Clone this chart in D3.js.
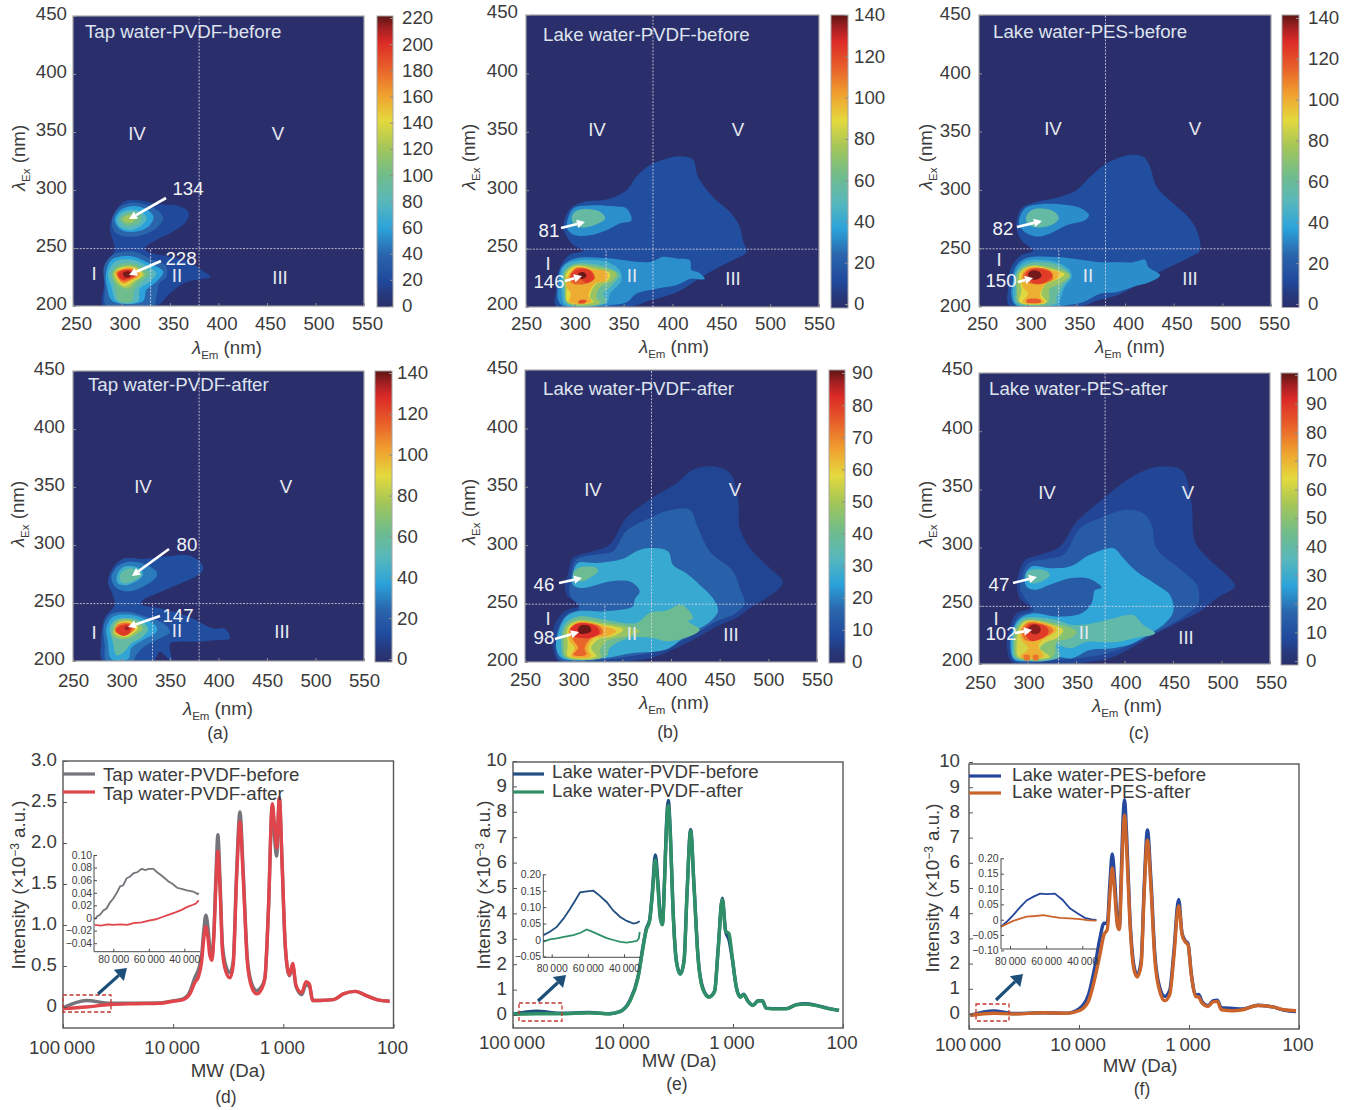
<!DOCTYPE html>
<html><head><meta charset="utf-8">
<script src="https://cdn.jsdelivr.net/npm/d3@7/dist/d3.min.js"></script>
<style>html,body{margin:0;padding:0;background:#fff}svg{display:block}text{font-family:"Liberation Sans",Arial,sans-serif}</style>
</head><body><svg id="c" width="1351" height="1110"></svg>
<script>
// ---------- colour bar (fraction of range -> colour) ----------
const cmapFractions=[0,.04,.09,.18,.27,.36,.45,.55,.64,.73,.82,.91,.96,1];
const cmapColors=["#2a2f6b","#27387a","#20499c","#2a65ac","#2ba3da","#58b7bc","#6fbc8c","#a5c657","#e4d93d","#f0a02f","#e8602a","#dc2a27","#a01f22","#5c1614"];
// ---------- EEM contours: [intensity level, [[Em nm, Ex nm], ...]] ----------
const tapBeforeContours=[
[20,[[288,268],[293,280],[303,290],[319,291],[336,288],[360,286],[369,281],[367,273],[353,264],[336,257],[324,250],[326,247],[346,243],[370,238],[381,232],[392,225],[381,223],[365,220],[350,211],[336,200],[281,200],[282,217],[284,237],[293,248],[291,257]]],
[40,[[290,273],[295,283],[307,288.5],[322,288],[336,283],[343,276],[336,267],[320.5,261],[303,260],[293,264]]],
[60,[[293,274],[298,282],[310,286],[324,284],[333,277],[327,268],[314,264],[300,265.5]]],
[80,[[295,274],[300,280.5],[310,283],[320.5,281],[326,275.5],[319,268.5],[308.5,265.5],[298,268.5]]],
[100,[[298,275],[303,279],[312,281],[319,278.5],[320.5,274],[314,270],[305,269]]],
[120,[[301,275.5],[307,278.5],[312,278.5],[315,275.5],[310,272],[304,272]]],
[40,[[282,234],[291,244],[312,247],[329,241],[346,234],[346,225],[339,219.5],[336,208],[332.5,200],[284.5,200],[283,217]]],
[60,[[284,228],[289.5,239.7],[308.5,243],[325.7,238],[343,229.6],[336,221],[325.7,214],[322,204],[291,204],[285,217]]],
[80,[[286,228],[293,238],[310,240],[325.7,235],[336,228],[329,221],[319,215],[317,204],[295,204],[289.5,217]]],
[100,[[289.5,228],[295,235],[310,237],[324,232.5],[329,227.6],[320.5,221],[313.6,214],[310,204],[298,204],[293,217]]],
[120,[[291,228],[296.5,233],[310,235],[320.5,231],[324,226.7],[315,221],[307,215],[296.5,218]]],
[140,[[293,228],[298,232.5],[310,234],[319,230.5],[321.5,226.7],[312,221],[303,217],[296.5,221]]],
[160,[[293.7,228.7],[299,231.6],[310,233],[318,229.6],[319,226],[310,222],[302,219],[296.5,223]]],
[180,[[295,229],[300,231],[309,232],[316,229],[316,226],[308.5,222.4],[302,220.7],[297,224]]],
[200,[[296.4,228],[301,230.5],[308.5,231],[313.6,228.7],[313.6,226],[307,223.6],[301.6,222.4],[297.5,225]]],
[218,[[301.6,228.7],[307,230],[311,228],[308.5,225],[303,225]]]];
const lakePvdfBeforeContours=[
[15,[[288,268.6],[295,284],[308.7,290],[332.5,292],[353,300],[363,311.5],[377,321.5],[394,327],[407.5,329],[421,326],[426,311.5],[441.6,294],[458.7,281.5],[469,268.6],[472,257],[475.7,247],[465.5,241.5],[445,233],[424.6,223],[407.5,214],[390.5,208.6],[377,205.7],[363,201.4],[342.8,200],[281.4,200],[281.4,217],[284.8,234],[295,245],[308.7,248],[298.4,253],[290,263]]],
[34,[[291.6,270],[298.4,284.4],[315.5,287],[342.8,286],[353,284.4],[358,274],[346,271.5],[332.5,265.8],[315.5,261.5],[300,261.5],[293,265.8]]],
[58,[[296.7,275.8],[300,281.5],[312,283.8],[325.7,281.5],[331,275.8],[322,270.9],[308.7,268],[300,270]]],
[34,[[286.5,234],[300,241.5],[329,242],[377,238.6],[390.5,243],[404,241.5],[417.8,240],[419.5,231.5],[426,230],[433,224],[417.8,224],[404,218.6],[383.7,215.7],[363,211.4],[353,204],[336,201.4],[288,201],[283,205.7],[283,220]]],
[45,[[288,234],[301.8,239.5],[332.5,238.6],[346,231.5],[347.7,223],[336,211.4],[332.5,204],[290,202],[286.8,211.4]]],
[60,[[289,230],[300,237],[325.7,235.7],[342.8,230],[346,227],[336,217],[329,211.4],[332.5,204],[293,202.9],[289,217]]],
[75,[[290,230],[300,235.7],[325.7,233.5],[342.8,228.6],[339,223],[325.7,217],[322,208.6],[325.7,203.4],[292,203.4],[290,217]]],
[90,[[291.6,228.6],[301,234.9],[322,232],[336,228.6],[334,223],[322,220],[315.5,208.6],[319,204.3],[293,204.3],[291.6,217]]],
[100,[[293,227],[302,234],[319,232],[332.5,230],[332.5,223],[320.5,220],[314,210],[317,204.3],[294,204.3],[296,211.4],[291.6,217]]],
[115,[[295,227],[302,233.5],[317,231],[320.5,224.3],[312,220],[298.4,220],[295,223]]],
[125,[[295.7,227],[303.5,232.3],[315.5,231],[319.5,224.3],[312,220.6],[307,223.4],[298.4,224.3]]],
[120,[[305,205.7],[312,205.7],[310.4,203.4],[303.5,203.4]]],
[140,[[303.5,228.6],[308.7,230],[312,227],[308.7,224.3],[304.6,225]]]];
const lakePesBeforeContours=[
[15,[[288.4,271],[293.6,284],[305.6,289],[333,294],[350,299.8],[364,311],[381,322.7],[405,330],[418.8,328.4],[425.6,320],[432.5,302.6],[449.6,288.3],[465,276.8],[473.6,265.4],[477,248],[466.8,242.4],[446,233.8],[429,226.7],[408.5,216.6],[391.3,209.5],[370.7,205],[357,200.9],[281.6,200],[280,216.6],[283.3,233.8],[293.6,243.9],[305.6,247.6],[295.3,255.3],[290,262.5]]],
[34,[[291,271],[297,284],[312.4,287.7],[340,287],[355.3,284],[363,278.3],[358.7,274],[340,269.7],[322.7,262.5],[309,260],[297,264]]],
[58,[[298,275.4],[303.8,282.6],[315.9,284],[327.9,281],[332,275.4],[326,270.5],[312.4,267.7],[302,269.7]]],
[34,[[286.7,232.4],[297,241],[329.6,242.4],[374,238],[391,238],[408.5,238],[420.5,240],[424,233.8],[436,226.7],[425.6,221],[408.5,217],[391.3,212.3],[374,211],[360.4,205],[350,202.3],[288.4,200.9],[283,211],[285,222]]],
[45,[[288.4,231],[298.7,239],[329.6,238],[343.3,231],[345,225],[338,216.6],[333,205],[331,201.7],[288.4,201.7],[285,213.8]]],
[60,[[289,229.5],[300.4,236.7],[329.6,235.8],[344,226.7],[336.4,218],[329.6,208],[329.6,203],[289,203],[287.7,213.8]]],
[75,[[291,229.5],[301.5,235],[327.9,233],[343.3,226.7],[333,219.5],[322.7,215],[321,203.7],[291,203.7],[289,213.8]]],
[90,[[291.8,228],[302,234.4],[326,231.5],[338,227.5],[329.6,223],[319.3,219.5],[314,211],[319.3,203.7],[291.8,203.7],[293.6,213.8]]],
[100,[[293.6,228],[302,233.8],[322.7,231],[333,228.7],[329.6,223.8],[319.3,220],[312.4,209.5],[317.6,203.7],[294.6,203.7],[300.4,211],[295.3,216.6]]],
[115,[[295.3,226.7],[302,232.4],[322.7,231],[326,223.8],[315.9,219.5],[303.8,219.5],[297,222.4]]],
[125,[[298,227.5],[303.8,232],[319.3,231],[325.5,226.7],[315.9,220],[305.6,220],[300.4,223.8]]],
[118,[[299.4,206],[312.4,206],[314,203.7],[298.7,203.7]]],
[140,[[300.4,228],[305.6,231],[312.4,229.5],[314,225.8],[307.3,223],[302,224.7]]]];
const tapAfterContours=[
[15,[[286,268],[291,280],[303,288.5],[322,288],[346,290],[370,291],[382.5,284],[384,278.5],[377,273],[357,265.5],[336,258],[322,252.6],[320.5,249],[339.5,245.4],[370,238],[394.5,228],[406.5,228],[411.7,219.5],[398,218],[381,216.7],[360,216.7],[350,215],[351.5,200],[339.5,208],[332.5,200],[281,200],[279,216.7],[282.7,236.8],[293,248],[291,257]]],
[30,[[289.5,271],[295,281],[307,285.6],[322,284],[336,277],[336,272.6],[322,264],[307,260],[295,263]]],
[45,[[295,272.7],[300,280],[310,282],[320.5,278.5],[322,274],[313.6,268],[305,265.4],[296.5,266.8]]],
[58,[[298,272.7],[301.6,277.6],[310,280],[318,277],[320.5,274],[312,269],[305,267],[300,268.4]]],
[28,[[281.6,229.6],[288,239.7],[305,242.5],[325.7,238],[343,232.5],[350,225],[339.5,219.5],[325.7,213.8],[315,205],[312,200],[284.4,200],[282.7,213.8]]],
[40,[[284.4,228],[291,238],[307,240],[322,236.8],[336,229.6],[336,225],[322,218],[310,211],[307,201.7],[289.5,201.7],[286,216.7]]],
[58,[[288,228],[293,235],[307,237],[320.5,234],[327.4,228],[322,221],[310,215],[303,208],[295,205],[291,216.7]]],
[75,[[291,226.7],[295,234],[307,236],[317,232.5],[322,228],[317,224],[307,219.5],[296.5,219.5],[291,222.4]]],
[92,[[293,226.7],[296.5,232.5],[307,234.5],[315,231.6],[317,228],[312,224],[305,221],[297.5,221.8],[293,224]]],
[112,[[293,226.7],[296.5,231.6],[307,233],[312,230.5],[313.6,227.6],[309,224],[303,221.8],[296.5,223]]],
[126,[[294,226.7],[299,230.5],[307,231.6],[310,229.6],[310,226.7],[307,223],[301.6,221.8],[296.5,224]]],
[136,[[303,229],[306,230],[308.5,228],[305,226.4]]]];
const lakePvdfAfterContours=[
[7,[[294,274.8],[299.3,289],[320,294.8],[337,300.5],[354,323.3],[378,339],[405.5,353],[422.6,364.7],[443,367.5],[460.3,361.8],[469,340.4],[470.6,314.7],[481,297.6],[501.4,280.5],[515,269],[511.7,263.4],[498,254.8],[480.8,246],[467,237.7],[446.6,230.5],[426,220.5],[405.5,212],[385,204.9],[357.5,200.6],[285.6,200],[278.8,212],[280.5,232],[290.8,243.4],[306,248.5],[294,256],[290.8,266]]],
[15,[[297.6,274.8],[302.7,287.6],[323.3,292],[340.4,294.8],[354,312],[378,323],[395,329],[419,330.4],[427.8,314.7],[439.7,294.8],[463.7,277.6],[470.6,263.4],[475.7,250.5],[467,242],[446.6,234.8],[426,224.8],[405.5,216],[385,209],[357.5,204.9],[330,202],[285.6,202],[282,212],[284,229],[292.5,240.5],[306,246.2],[296,257.7]]],
[27,[[299.3,276],[304.5,284.8],[323.3,284.8],[350.7,288.5],[364.4,294.8],[378,297.6],[397,294.8],[402,283.3],[415.8,276],[429.5,266],[443,254.8],[448.3,243.4],[436.3,232],[419,224.8],[398.6,212],[385,209],[361,207.7],[331.9,203.4],[289,202.9],[282,212],[285.6,229],[292.5,239],[304.5,243.4],[331.9,243.4],[361,247.7],[362.7,253.4],[367.8,260.5],[359,268.5],[337,269],[323.3,266],[308,263.4],[299.3,266]]],
[40,[[299.3,274.8],[304.5,280.5],[323.3,280.5],[325,277.6],[316.5,272],[308,269],[301.7,270]]],
[40,[[290.8,232],[304.5,239],[333.6,236],[364.4,233.4],[378,242],[395,244],[410.6,249],[422.6,237.7],[417.5,234.8],[429.5,227.7],[415.8,221],[395,217.7],[381.5,220.5],[357.5,220.5],[337,212],[333.6,204.9],[290.8,204],[287.3,214.8]]],
[48,[[292.5,230.5],[304.5,236],[332,233.4],[354,230.5],[368,226.3],[354,222],[333.6,217.7],[326.7,209],[328.4,204],[292.5,204],[289.8,214.8]]],
[57,[[294,229],[304.5,234.8],[330,232],[350.7,227.7],[340.4,222],[326.7,220],[318,212],[323.3,204.9],[294,204.9],[294,214.8]]],
[65,[[295.2,227.7],[304.5,234.2],[328.4,231.4],[343.8,226.3],[333.6,222],[319.9,220],[314.7,210.6],[318,204.9],[297.6,204.9],[301,212],[296,217.7]]],
[74,[[296,227.7],[304.5,233.4],[326.7,230.5],[330,224.8],[318,220.5],[311.3,212],[313,206.3],[299.3,206.3],[304.5,212],[299.3,219]]],
[82,[[296.6,227.7],[304.5,232.9],[323.3,230.5],[326.7,224.8],[316.5,220.5],[307.9,220.5],[299.3,222]]],
[90,[[304.5,228.5],[307.9,231.4],[316.5,230.5],[318,226.3],[309.6,224],[305.5,224.8]]]];
const lakePesAfterContours=[
[8,[[290.5,276.5],[297.4,289.4],[313,293.8],[333.5,301],[350.7,322.4],[374.7,339.6],[405.7,359.7],[426.3,368],[446.9,369.7],[460.6,365.4],[469.2,336.8],[472.7,305],[488,289.4],[508.7,273.7],[513.9,266.5],[495,256.5],[477.8,245],[457,236.4],[433,226.4],[409,214.9],[388.5,206.3],[364.4,202],[285.4,200.6],[279,213.5],[282,232],[288.8,243.6],[302.6,247.9],[292,256.5],[288.8,268]]],
[15,[[294,275],[300.9,286.6],[319.7,290.3],[337,293.8],[354,316.7],[374.7,325.3],[402,332.5],[419.4,329.6],[428,319.6],[433,299.5],[460.6,279.4],[474.4,268],[476,252],[460.6,240.7],[436.6,229],[412.5,219],[388.5,210.6],[364.4,206.3],[330,203.4],[287,202.6],[282,213.5],[283.7,229],[290.5,240.7],[306,246.4],[297.4,256.5],[292.3,265]]],
[28,[[297.4,276.5],[304.3,283.7],[323,282.3],[343.8,283.7],[364.4,293.8],[388.5,299.5],[398.8,290.9],[412.5,279.4],[433,268],[446.9,259.3],[450.3,245],[440,233.5],[426.3,226.4],[409,217.8],[388.5,213.5],[364.4,212],[345.5,204.9],[330,206.3],[287,203.4],[282.6,213.5],[285.4,230.7],[292.3,239.3],[306,243.6],[331.8,240.7],[355.8,243.6],[366,252],[369.6,263.6],[376.4,265.6],[364.4,273],[343.8,273.7],[323,268],[307.7,263.6],[299,266.5]]],
[40,[[299,278],[304.3,280.9],[319.7,280],[323,276.5],[314.6,270.8],[304.3,269.4],[299.6,272]]],
[40,[[287,230.7],[295.7,239.3],[330,237.8],[347,233.5],[374.7,236.4],[388.5,239.3],[409,242],[419.4,233.5],[431.4,226.4],[409,222],[392,219],[374.7,219],[361,219],[343.8,213.5],[330,216.3],[333.5,206.3],[287,204.9],[284.7,216.3]]],
[50,[[288.8,230.7],[297.4,237.8],[328.3,235],[350.7,227.8],[343.8,222],[330,219],[326.6,206.3],[288.8,205.4],[286,216.3]]],
[62,[[290.5,229],[298.4,237],[326.6,233.5],[337,229],[330,222],[319.7,219],[312.9,213.5],[323,206.3],[290.5,206.3],[288.8,216.3]]],
[71,[[292.3,229],[300.9,236.4],[325,233],[330,229],[319.7,222.6],[311,216.3],[316.3,206.3],[292.3,206.3],[300.9,213.5],[294,220.6]]],
[80,[[294,229],[300.9,235.6],[323,232],[326.6,228.4],[316.3,222.6],[306,219.8],[297.4,220.6]]],
[89,[[297.4,229],[301.9,234.4],[319.7,232],[321.5,226.4],[311,220.6],[304.3,219.8],[299,223.5]]],
[98,[[300.9,230.7],[306,234],[312.9,232],[312.9,227.2],[306,225.5]]],
[80,[[296.4,207.7],[302,207.7],[302,203.5],[296.4,203.5]]],
[80,[[306,207.7],[311,207.7],[311,203.5],[306,203.5]]]];
// ---------- EEM axis ticks ----------
const emTicks=[250,300,350,400,450,500,550];
const exTicks=[200,250,300,350,400,450];
const cbTicksTap=[0,20,40,60,80,100,120,140,160,180,200,220];
const cbTicks140=[0,20,40,60,80,100,120,140];
const cbTicks90=[0,10,20,30,40,50,60,70,80,90];
const cbTicks100=[0,10,20,30,40,50,60,70,80,90,100];
// ---------- MW curves ----------
const logMwD=[5,4.788,4.576,4.364,4.121,4,3.909,3.848,3.803,3.77,3.742,3.721,3.703,3.685,3.667,3.648,3.63,3.612,3.594,3.576,3.552,3.521,3.485,3.455,3.424,3.394,3.364,3.327,3.288,3.242,3.197,3.167,3.136,3.1,3.076,3.061,3.036,3.012,2.982,2.945,2.915,2.885,2.833,2.794,2.764,2.733,2.667,2.545,2.455,2.348,2.242,2.152,2.036];
const tapBefore=[-.01,.08,.045,.045,.05,.075,.1,.19,.36,.46,.63,.95,1.12,.98,.72,.62,.92,1.6,2.1,1.6,.75,.5,.42,.56,1.65,2.38,1.65,.6,.29,.2,.25,.36,1.16,2.45,2,1.84,2.55,1.78,.72,.38,.5,.25,.15,.27,.25,.08,.08,.09,.16,.19,.135,.09,.07];
const tapAfter=[-.02,0,.03,.04,.045,.07,.09,.16,.3,.37,.55,.85,.98,.85,.63,.57,.88,1.49,1.9,1.49,.67,.43,.355,.51,1.57,2.26,1.57,.55,.245,.16,.22,.35,1.16,2.48,2.14,1.94,2.55,1.78,.75,.39,.53,.265,.175,.31,.28,.08,.08,.09,.16,.19,.135,.09,.07];
const logMwE=[5,4.788,4.576,4.303,4.121,4.03,3.939,3.864,3.818,3.788,3.758,3.733,3.706,3.682,3.661,3.642,3.621,3.606,3.588,3.57,3.545,3.515,3.479,3.445,3.418,3.385,3.355,3.318,3.273,3.218,3.167,3.136,3.097,3.067,3.036,3.006,2.97,2.933,2.903,2.864,2.818,2.773,2.733,2.697,2.591,2.515,2.424,2.348,2.242,2.121,2.036];
const lakePvdfBefore=[.03,.15,.07,.1,.05,.13,.56,1.5,2.7,3.4,3.75,4.85,6.3,5.2,3.9,3.6,5.5,7.4,8.45,7.2,4.15,2.15,1.62,2.15,4.8,7.3,5.15,2.3,1.05,.72,.95,2.55,4.6,3.3,2.95,2.2,1.1,.72,.82,.55,.38,.56,.56,.27,.25,.25,.41,.44,.38,.25,.18];
const lakePvdfAfter=[.03,.05,.05,.09,.05,.13,.53,1.45,2.65,3.35,3.7,4.75,6.1,5,3.8,3.55,5.4,7.25,8.25,7.1,4.1,2.1,1.6,2.1,4.75,7.25,5.1,2.25,1,.7,.92,2.5,4.55,3.3,3.2,2.25,1.1,.7,.8,.53,.37,.55,.55,.26,.24,.24,.4,.43,.37,.24,.18];
const logMwF=[4.988,4.776,4.595,4.323,4.112,4,3.915,3.855,3.81,3.773,3.743,3.719,3.698,3.674,3.653,3.634,3.616,3.601,3.586,3.568,3.538,3.502,3.471,3.435,3.408,3.378,3.347,3.311,3.266,3.221,3.175,3.139,3.094,3.063,3.033,3.009,2.979,2.94,2.912,2.882,2.828,2.782,2.743,2.707,2.601,2.511,2.375,2.239,2.133,2.027];
const lakePesBefore=[-.05,.12,.02,.05,.03,.2,.75,1.9,3,3.6,3.6,5.2,6.35,5.2,3.75,3.4,5.5,7.6,8.5,7.2,3.9,1.95,1.55,2.1,5,7.3,5.4,2.4,1.05,.7,.95,2.4,4.55,3.2,2.9,2.8,1.6,.75,.78,.5,.33,.52,.55,.25,.22,.2,.35,.28,.15,.1];
const lakePesAfter=[-.05,.03,0,.05,.03,.13,.5,1.43,2.35,3.15,3.35,4.75,5.8,4.75,3.55,3.35,5.1,7,7.9,6.7,3.7,1.8,1.47,1.95,4.75,6.9,5.1,2.2,.9,.53,.77,2.2,4.3,3.15,2.85,2.75,1.55,.7,.67,.44,.3,.48,.5,.17,.13,.17,.34,.28,.17,.13];
const mwTicks=[100000,10000,1000,100];
const yTicksD=[0,.5,1,1.5,2,2.5,3];
const yTicks10=[0,1,2,3,4,5,6,7,8,9,10];
// ---------- insets: [MW, value] ----------
const insetTapBefore=[[90400,-.002],[89000,.003],[87500,.005],[85600,.012],[83800,.015],[82000,.024],[80000,.031],[78000,.04],[76200,.05],[74400,.052],[72500,.063],[70500,.066],[68700,.071],[66300,.073],[64000,.078],[62000,.076],[60000,.078],[57400,.078],[55500,.073],[53600,.069],[51000,.063],[48900,.058],[46500,.054],[44100,.048],[41000,.046],[38500,.044],[35000,.042],[32500,.038],[31900,.04]];
const insetTapAfter=[[90400,-.011],[87000,-.012],[83000,-.01],[80000,-.011],[76000,-.01],[72000,-.011],[68700,-.008],[64000,-.007],[60000,-.004],[56000,-.002],[52000,.002],[49000,.005],[45000,.009],[41500,.013],[38000,.018],[35000,.021],[33500,.023],[31900,.028]];
const insetPvdfBefore=[[84600,.015],[81000,.025],[77200,.04],[73500,.065],[69800,.095],[67000,.12],[64300,.145],[60500,.148],[56900,.15],[53500,.135],[49500,.115],[46000,.09],[42100,.07],[38500,.058],[34700,.05],[33000,.052],[31300,.057]];
const insetPvdfAfter=[[84600,-.005],[81000,.002],[77200,.005],[72500,.01],[68000,.015],[64000,.022],[60600,.032],[57000,.024],[53300,.015],[49500,.006],[45900,0],[42000,-.006],[38500,-.008],[35000,-.005],[32900,-.003],[31800,.005],[31300,.025]];
const insetPesBefore=[[85000,-.023],[81500,-.005],[78200,.015],[74500,.04],[70800,.063],[67000,.075],[63400,.085],[59500,.083],[55200,.085],[51000,.065],[46900,.037],[42500,.02],[38600,.006],[35000,.001],[32200,-.001]];
const insetPesAfter=[[85000,-.023],[78200,-.004],[74000,.004],[70800,.01],[66000,.012],[61600,.015],[57000,.01],[52400,.006],[47000,.004],[41400,.002],[36000,-.002],[32200,-.003]];
const insetXTicks=[80000,60000,40000];
const insetYTicksD=[-.04,-.02,0,.02,.04,.06,.08,.1];
const insetYTicksE=[-.05,0,.05,.1,.15,.2];
const insetYTicksF=[-.1,-.05,0,.05,.1,.15,.2];

// ---------- drawing ----------
const TEXT="#3b3b3b",FS=18.7,svg=d3.select("#c");
const defs=svg.append("defs");
const grad=defs.append("linearGradient").attr("id","cb").attr("x1",0).attr("y1",1).attr("x2",0).attr("y2",0);
cmapFractions.forEach((f,i)=>grad.append("stop").attr("offset",f).attr("stop-color",cmapColors[i]));
const cmap=d3.scaleLinear().domain(cmapFractions).range(cmapColors).interpolate(d3.interpolateRgb).clamp(true);

function label(x,y,s,o={}){return svg.append("text").attr("x",x).attr("y",y).attr("dy",".36em").attr("text-anchor",o.anchor||"middle").attr("fill",o.fill||TEXT).attr("font-size",o.size||FS).text(s);}
function arrow(x1,y1,x2,y2,color,w,hl,hw){
  const a=Math.atan2(y2-y1,x2-x1),bx=x2-hl*Math.cos(a),by=y2-hl*Math.sin(a),nx=-Math.sin(a),ny=Math.cos(a);
  svg.append("line").attr("x1",x1).attr("y1",y1).attr("x2",bx).attr("y2",by).attr("stroke",color).attr("stroke-width",w);
  svg.append("polygon").attr("points",[[x2,y2],[bx+nx*hw,by+ny*hw],[bx-nx*hw,by-ny*hw]].join(" ")).attr("fill",color);
}
function lambdaTitle(cx,cy,sub,rot){
  const t=svg.append("text").attr("text-anchor","middle").attr("fill",TEXT).attr("font-size",FS)
    .attr("transform",`translate(${cx},${cy})`+(rot?" rotate(-90)":"")).attr("dy",".36em");
  t.append("tspan").attr("font-style","italic").text("λ");
  t.append("tspan").attr("font-size",11.5).attr("dy",5).text(sub);
  t.append("tspan").attr("dy",-5).text(" (nm)");
}
const eemPanels=[
{c:tapBeforeContours,max:222,cbT:cbTicksTap,cbR:[306,18],cbM:220,x:[73,364],y:[16,306],cb:[377,393],cbL:402,ySh:-2,title:["Tap water-PVDF-before",85,31],
 rom:{I:[94,273],II:[177,275],III:[280,277],IV:[137,133],V:[278,133]},v:330,peaks:[["134",188,188,166,198,129,219],["228",181,258,161,261,129,275]],xLab:[323,3],yLab:67,xT:[227,347],yT:[18,158]},
{c:lakePvdfBeforeContours,max:141,cbT:cbTicks140,cbR:[304,15],cbM:140,x:[526,819],y:[15,307],cb:[831,848],cbL:854,ySh:-3,title:["Lake water-PVDF-before",543,34],
 rom:{I:[548,263],II:[632,275],III:[733,278],IV:[597,129],V:[738,129]},v:332,peaks:[["81",549,230,561,228,585,222],["146",549,281,565,281,582,276]],xLab:[323,0],yLab:518,xT:[674,346],yT:[468,157]},
{c:lakePesBeforeContours,max:142,cbT:cbTicks140,cbR:[304,18],cbM:140,x:[979,1271],y:[15,306.5],cb:[1282,1299],cbL:1308,ySh:-1,title:["Lake water-PES-before",993,31],
 rom:{I:[999,259],II:[1088,275],III:[1190,278],IV:[1053,128],V:[1195,128]},v:332,peaks:[["82",1003,228,1017,227,1042,221],["150",1001,280,1018,282,1033,278]],xLab:[323,3],yLab:971,xT:[1130,346],yT:[925,157]},
{c:tapAfterContours,max:142,cbT:cbTicks140,cbR:[659,373],cbM:140,x:[73,364],y:[371,661],cb:[375,392],cbL:397,ySh:-2,title:["Tap water-PVDF-after",88,384],
 rom:{I:[94,632],II:[177,630],III:[282,631],IV:[143,486],V:[286,486]},v:332,peaks:[["80",187,544,169,549,132,576],["147",178,615,160,616,128,627]],xLab:[680,0],yLab:65,xT:[218,708],yT:[17,514],cap:["(a)",218,733]},
{c:lakePvdfAfterContours,max:91,cbT:cbTicks90,cbR:[662,373],cbM:90,x:[525,817],y:[370,662],cb:[829,845],cbL:852,ySh:-2,title:["Lake water-PVDF-after",543,388],
 rom:{I:[548,618],II:[632,633],III:[731,634],IV:[593,489],V:[735,489]},v:332,peaks:[["46",544,584,559,583,582,578],["98",544,637,555,639,579,632]],xLab:[679,0],yLab:518,xT:[674,702],yT:[468,512],cap:["(b)",668,732]},
{c:lakePesAfterContours,max:101,cbT:cbTicks100,cbR:[661,375],cbM:100,x:[979,1270],y:[373,664],cb:[1281,1298],cbL:1306,ySh:-4,title:["Lake water-PES-after",989,388],
 rom:{I:[996,618],II:[1084,632],III:[1186,637],IV:[1047,492],V:[1188,492]},v:332,peaks:[["47",999,584,1013,583,1037,577],["102",1001,633,1015,633,1032,630]],xLab:[682,1],yLab:973,xT:[1127,705],yT:[925,514],cap:["(c)",1139,733]}
];
eemPanels.forEach((p,i)=>{
  const x=d3.scaleLinear().domain([250,550]).range(p.x), y=d3.scaleLinear().domain([200,450]).range([p.y[1],p.y[0]]);
  const w=p.x[1]-p.x[0],h=p.y[1]-p.y[0];
  defs.append("clipPath").attr("id","clip"+i).append("rect").attr("x",p.x[0]).attr("y",p.y[0]).attr("width",w).attr("height",h);
  svg.append("rect").attr("x",p.x[0]).attr("y",p.y[0]).attr("width",w).attr("height",h).attr("fill",cmap(0));
  const line=d3.line().x(d=>x(d[0])).y(d=>y(d[1])).curve(d3.curveCatmullRomClosed.alpha(.5));
  svg.append("g").attr("clip-path",`url(#clip${i})`).selectAll("path").data(p.c).join("path")
    .attr("d",d=>line(d[1])).attr("fill",d=>cmap(d[0]/p.max));
  // dotted guide lines
  const guide=[[x(380),y(200),x(380),y(450)],[x(250),y(249.5),x(550),y(249.5)],[x(p.v),y(200),x(p.v),y(249.5)]];
  guide.forEach(g=>svg.append("line").attr("x1",g[0]).attr("y1",g[1]).attr("x2",g[2]).attr("y2",g[3]).attr("stroke","#e9dfe9").attr("stroke-width",.9).attr("stroke-dasharray","2 1.4").attr("opacity",.85));
  svg.append("rect").attr("x",p.x[0]).attr("y",p.y[0]).attr("width",w).attr("height",h).attr("fill","none").attr("stroke","#a6a6a6").attr("stroke-width",1.2);
  // axes
  const ax=svg.append("g").attr("transform",`translate(0,${p.y[1]})`).call(d3.axisBottom(x).tickValues(emTicks).tickSizeOuter(0).tickSizeInner(-3).tickPadding(p.xLab[0]-p.y[1]-6.5));
  ax.selectAll("text").attr("dx",p.xLab[1]);
  const ay=svg.append("g").attr("transform",`translate(${p.x[0]},0)`).call(d3.axisLeft(y).tickValues(exTicks).tickSizeOuter(0).tickSizeInner(-3).tickPadding(p.x[0]-p.yLab));
  ay.selectAll("text").attr("y",p.ySh);
  [ax,ay].forEach(a=>{a.select(".domain").remove();a.selectAll("line").attr("stroke","#8e8e8e");a.selectAll("text").attr("fill",TEXT).attr("font-size",FS).attr("font-family","Liberation Sans");});
  lambdaTitle(p.xT[0],p.xT[1],"Em",false);
  lambdaTitle(p.yT[0],p.yT[1],"Ex",true);
  // colour bar
  const cs=d3.scaleLinear().domain([0,p.cbM]).range(p.cbR);
  svg.append("rect").attr("x",p.cb[0]).attr("y",p.y[0]).attr("width",p.cb[1]-p.cb[0]).attr("height",h+1).attr("fill","url(#cb)").attr("stroke","#a6a6a6").attr("stroke-width",1);
  const ac=svg.append("g").attr("transform",`translate(${p.cb[1]},0)`).call(d3.axisRight(cs).tickValues(p.cbT).tickSizeOuter(0).tickSizeInner(-3).tickPadding(p.cbL-p.cb[1]));
  ac.select(".domain").remove();ac.selectAll("line").attr("stroke","#8e8e8e");ac.selectAll("text").attr("fill",TEXT).attr("font-size",FS).attr("font-family","Liberation Sans");
  // annotations
  label(p.title[1],p.title[2],p.title[0],{anchor:"start",fill:"#dfe3ee"});
  Object.entries(p.rom).forEach(([k,v])=>label(v[0],v[1],k,{fill:"#e6e8f0"}));
  p.peaks.forEach(k=>{label(k[1],k[2],k[0],{fill:"#f2f3f7"});arrow(k[3],k[4],k[5],k[6],"#ffffff",2.6,8,4.2);});
  if(p.cap)label(p.cap[1],p.cap[2],p.cap[0],{size:17.5});
});

const mwPanels=[
{xv:logMwD,a:tapBefore,b:tapAfter,names:["Tap water-PVDF-before","Tap water-PVDF-after"],colors:["#74747a","#df454b"],x:[63,393.5],y:[761,1028],yMap:[1007,761],yT:yTicksD,yFmt:d=>d===0?"0":d3.format(".1f")(d),
 yLabR:57,xLabY:1047,xTitle:[228,1070],yTitle:[18,885],cap:["(d)",226,1097],leg:{x:[63,95],y:[774,792],tx:103,ty:[774,793]},box:[63,995,111,1012],arr:[98,994,127,968],
 ins:{a:insetTapBefore,b:insetTapAfter,x:[94,200],y:[855,951.7],xAt:[113.3,184.3],yAt:[918,855],yDom:[0,.1],yT:insetYTicksD,xLabY:959.5,yLabR:92}},
{xv:logMwE,a:lakePvdfBefore,b:lakePvdfAfter,names:["Lake water-PVDF-before","Lake water-PVDF-after"],colors:["#1f4e80","#2f9068"],x:[513,843],y:[762,1028],yMap:[1015,761],yT:yTicks10,yFmt:d=>String(d),
 yLabR:507,xLabY:1042,xTitle:[679,1060],yTitle:[483,885],cap:["(e)",677,1084],leg:{x:[513,544],y:[774,792],tx:552,ty:[771,790]},box:[519,1003,562,1021],arr:[538,1001,566,975],
 ins:{a:insetPvdfBefore,b:insetPvdfAfter,x:[543.3,641],y:[874.3,957.3],xAt:[551.7,624],yAt:[940,874.3],yDom:[0,.2],yT:insetYTicksE,xLabY:968,yLabR:541}},
{xv:logMwF,a:lakePesBefore,b:lakePesAfter,names:["Lake water-PES-before","Lake water-PES-after"],colors:["#25479c","#cb642b"],x:[969,1299],y:[764,1029],yMap:[1014,762],yT:yTicks10,yFmt:d=>String(d),
 yLabR:960,xLabY:1044,xTitle:[1140,1065],yTitle:[932,888],cap:["(f)",1142,1089],leg:{x:[969,1001],y:[776,793],tx:1012,ty:[774,791]},box:[976,1004,1009,1021],arr:[996,1000,1023,974],
 ins:{a:insetPesBefore,b:insetPesAfter,x:[1001,1098],y:[858.3,949],xAt:[1010,1082.3],yAt:[919.7,858.3],yDom:[0,.2],yT:insetYTicksF,xLabY:961,yLabR:998.5}}
];
const spaced=d=>d3.format(",")(d).replace(/,/g,"\u2009");
mwPanels.forEach(p=>{
  const x=d3.scaleLog().domain([100000,100]).range(p.x);
  const y=d3.scaleLinear().domain([0,p.yT===yTicksD?3:10]).range(p.yMap);
  const pts=(arr)=>arr.map((v,i)=>[Math.pow(10,p.xv[i]),v]);
  svg.append("rect").attr("x",p.x[0]).attr("y",p.y[0]).attr("width",p.x[1]-p.x[0]).attr("height",p.y[1]-p.y[0]).attr("fill","none").attr("stroke","#565656").attr("stroke-width",1.4);
  const line=d3.line().x(d=>x(d[0])).y(d=>y(d[1])).curve(d3.curveMonotoneX);
  [p.a,p.b].forEach((s,i)=>svg.append("path").attr("d",line(pts(s))).attr("fill","none").attr("stroke",p.colors[i]).attr("stroke-width",3.4).attr("stroke-linejoin","round"));
  const ax=svg.append("g").attr("transform",`translate(0,${p.y[1]})`).call(d3.axisBottom(x).tickValues(mwTicks).tickFormat(spaced).tickSizeOuter(0).tickSizeInner(-4).tickPadding(p.xLabY-p.y[1]-6.5));
  const ay=svg.append("g").attr("transform",`translate(${p.x[0]},0)`).call(d3.axisLeft(y).tickValues(p.yT).tickFormat(p.yFmt).tickSizeOuter(0).tickSizeInner(-4).tickPadding(p.x[0]-p.yLabR));
  ax.selectAll("text").attr("dx",-1.5);
  ay.selectAll("text").attr("y",-1);
  [ax,ay].forEach(a=>{a.select(".domain").remove();a.selectAll("line").attr("stroke","#565656");a.selectAll("text").attr("fill",TEXT).attr("font-size",FS).attr("font-family","Liberation Sans");});
  label(p.xTitle[0],p.xTitle[1],"MW (Da)");
  const t=svg.append("text").attr("text-anchor","middle").attr("fill",TEXT).attr("font-size",FS).attr("dy",".36em").attr("transform",`translate(${p.yTitle[0]},${p.yTitle[1]}) rotate(-90)`);
  t.append("tspan").text("Intensity (×10");
  t.append("tspan").attr("font-size",12).attr("dy",-6).text("−3");
  t.append("tspan").attr("dy",6).text(" a.u.)");
  label(p.cap[1],p.cap[2],p.cap[0],{size:17.5});
  p.names.forEach((n,i)=>{
    svg.append("line").attr("x1",p.leg.x[0]).attr("x2",p.leg.x[1]).attr("y1",p.leg.y[i]).attr("y2",p.leg.y[i]).attr("stroke",p.colors[i]).attr("stroke-width",3.2);
    label(p.leg.tx,p.leg.ty[i],n,{anchor:"start"});
  });
  svg.append("rect").attr("x",p.box[0]).attr("y",p.box[1]).attr("width",p.box[2]-p.box[0]).attr("height",p.box[3]-p.box[1]).attr("fill","none").attr("stroke","#c4372f").attr("stroke-width",1.3).attr("stroke-dasharray","4 2.5");
  arrow(p.arr[0],p.arr[1],p.arr[2],p.arr[3],"#1d4f78",3.2,11,7.5);
  // inset
  const n=p.ins;
  const ix=d3.scaleLinear().domain([80000,40000]).range(n.xAt);
  const iy=d3.scaleLinear().domain(n.yDom).range(n.yAt);
  const il=d3.line().x(d=>ix(d[0])).y(d=>iy(d[1]));
  [n.a,n.b].forEach((s,i)=>svg.append("path").attr("d",il(s)).attr("fill","none").attr("stroke",p.colors[i]).attr("stroke-width",1.8));
  const bx=svg.append("g").attr("transform",`translate(0,${n.y[1]})`).call(d3.axisBottom(ix).tickValues(insetXTicks).tickFormat(spaced).tickSizeOuter(0).tickSizeInner(-3).tickPadding(n.xLabY-n.y[1]-3.6));
  const by=svg.append("g").attr("transform",`translate(${n.x[0]},0)`).call(d3.axisLeft(iy).tickValues(n.yT).tickFormat(d=>d===0?"0":d3.format(".2f")(d).replace("-","−")).tickSizeOuter(0).tickSizeInner(-3).tickPadding(n.x[0]-n.yLabR));
  [bx,by].forEach(a=>{a.select(".domain").remove();a.selectAll("line").attr("stroke","#4a4a4a");a.selectAll("text").attr("fill",TEXT).attr("font-size",10.4).attr("font-family","Liberation Sans");});
  svg.append("path").attr("d",`M${n.x[0]},${n.y[0]}V${n.y[1]}H${n.x[1]}`).attr("fill","none").attr("stroke","#4a4a4a").attr("stroke-width",1);
});
</script></body></html>
